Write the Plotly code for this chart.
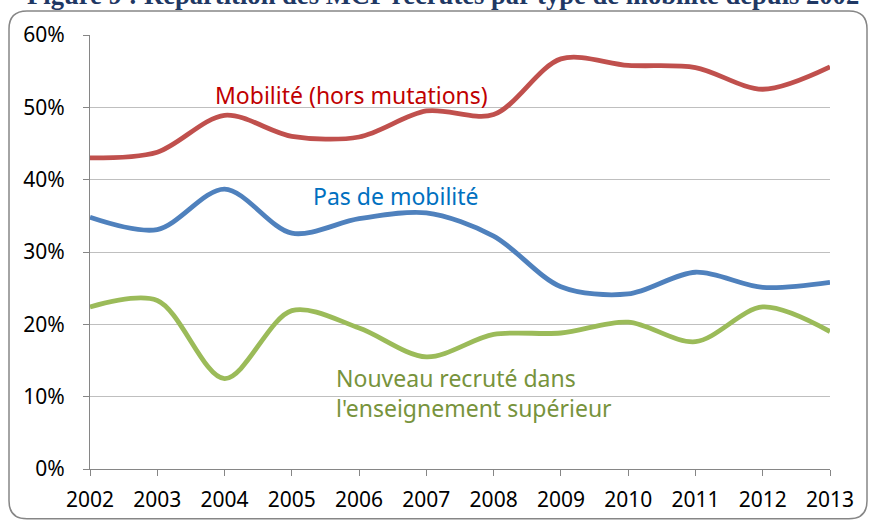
import plotly.graph_objects as go

years = [2002, 2003, 2004, 2005, 2006, 2007, 2008, 2009, 2010, 2011, 2012, 2013]
mobilite = [43.0, 43.8, 48.9, 46.0, 45.9, 49.5, 49.0, 56.7, 55.8, 55.5, 52.5, 55.6]
pas_mobilite = [34.8, 33.1, 38.7, 32.6, 34.6, 35.4, 32.2, 25.2, 24.2, 27.2, 25.1, 25.8]
nouveau = [22.4, 23.3, 12.5, 21.9, 19.5, 15.5, 18.6, 18.8, 20.3, 17.6, 22.4, 19.0]
y_ticks = [0, 10, 20, 30, 40, 50, 60]
y_labels = ["0%", "10%", "20%", "30%", "40%", "50%", "60%"]

W, H = 870, 525
L, R, T, B = 90, 40, 35, 54
pw, ph = W - L - R, H - T - B

fig = go.Figure()
for vals, col in [(mobilite, "#C0504D"), (pas_mobilite, "#4F81BD"), (nouveau, "#9BBB59")]:
    fig.add_trace(go.Scatter(x=years, y=vals, mode="lines",
                             line=dict(color=col, width=4.8, shape="spline", smoothing=0.9),
                             showlegend=False, hoverinfo="skip"))

font = "Noto Sans, DejaVu Sans, sans-serif"
fig.update_layout(
    width=W, height=H,
    margin=dict(l=L, r=R, t=T, b=B),
    paper_bgcolor="white", plot_bgcolor="white",
    xaxis=dict(range=[2002, 2013], tickvals=years, ticktext=[str(y) for y in years],
               showgrid=False, zeroline=False, showline=True, linecolor="#868686", linewidth=1.3,
               ticks="outside", ticklen=6, tickcolor="#868686", ticklabelstandoff=6,
               tickfont=dict(family=font, size=21, color="black")),
    yaxis=dict(range=[0, 60], tickvals=y_ticks, ticktext=y_labels,
               showgrid=True, gridcolor="#BFBFBF", gridwidth=1.3, zeroline=False,
               showline=True, linecolor="#868686", linewidth=1.3,
               ticks="outside", ticklen=6, tickcolor="#868686", ticklabelstandoff=14,
               tickfont=dict(family=font, size=21, color="black")),
)

def px(x):
    return (x - L) / pw

def py(y):
    return (H - B - y) / ph

x0, x1, y0, y1, r = 9, 867, 11, 521, 18
path = (f"M {px(x0 + r)} {py(y0)} L {px(x1 - r)} {py(y0)} Q {px(x1)} {py(y0)} {px(x1)} {py(y0 + r)} "
        f"L {px(x1)} {py(y1 - r)} Q {px(x1)} {py(y1)} {px(x1 - r)} {py(y1)} "
        f"L {px(x0 + r)} {py(y1)} Q {px(x0)} {py(y1)} {px(x0)} {py(y1 - r)} "
        f"L {px(x0)} {py(y0 + r)} Q {px(x0)} {py(y0)} {px(x0 + r)} {py(y0)} Z")
fig.add_shape(type="path", path=path, xref="paper", yref="paper",
              line=dict(color="#868686", width=1.5), layer="below")

fig.add_annotation(text="<b>Figure 9 : Répartition des MCF recrutés par type de mobilité depuis 2002</b>",
                   xref="paper", yref="paper", x=px(25), y=py(-5), xanchor="left", yanchor="middle",
                   showarrow=False,
                   font=dict(family="Liberation Serif, serif", size=26.6, color="#1F3864"))

fig.add_annotation(text="Mobilité (hors mutations)", x=2005.88, y=51.7, xref="x", yref="y",
                   xanchor="center", yanchor="middle", showarrow=False,
                   font=dict(family=font, size=23, color="#C00000"))
fig.add_annotation(text="Pas de mobilité", x=2006.55, y=37.7, xref="x", yref="y",
                   xanchor="center", yanchor="middle", showarrow=False,
                   font=dict(family=font, size=23, color="#0070C0"))
fig.add_annotation(text="Nouveau recruté dans<br>l'enseignement supérieur", x=2005.62, y=10.5,
                   xref="x", yref="y", xanchor="left", yanchor="middle", align="left",
                   showarrow=False,
                   font=dict(family=font, size=23, color="#77933C"))

fig.write_html("out.html", config={"displayModeBar": False},
               post_script="document.body.style.margin='0';document.body.style.overflow='hidden';")
